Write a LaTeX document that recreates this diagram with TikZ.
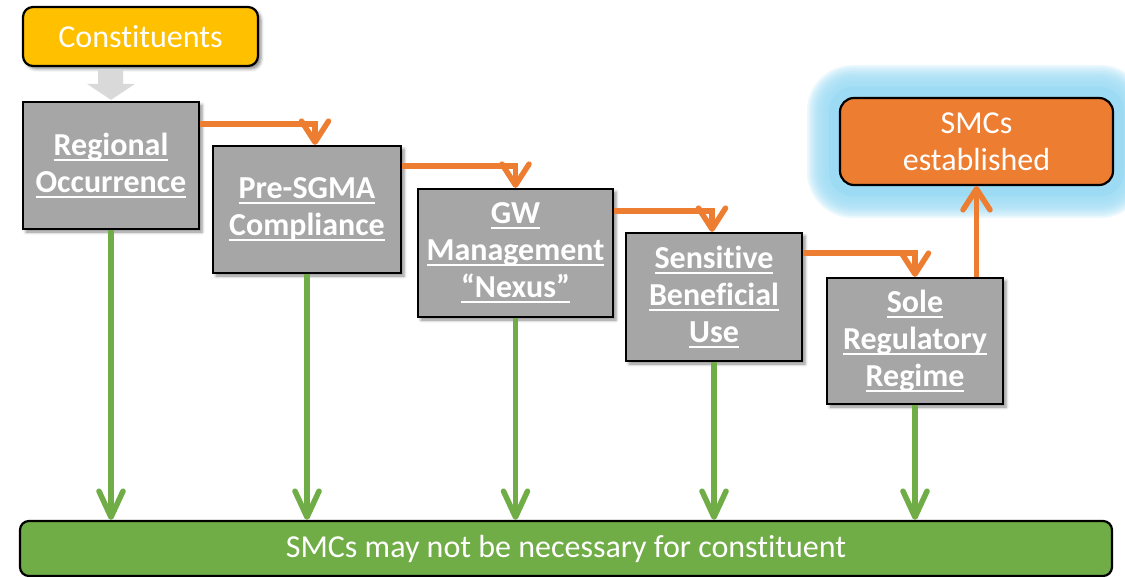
\documentclass[tikz,border=0pt]{standalone}
\usepackage{fontspec}
\setmainfont{Carlito}[Ligatures={NoCommon,NoRare},Contextuals=NoAlternate]
\usetikzlibrary{arrows.meta,shadows.blur,backgrounds,calc}

\definecolor{stagegray}{RGB}{166,166,166}
\definecolor{startyellow}{RGB}{255,192,0}
\definecolor{endorange}{RGB}{237,125,49}
\definecolor{skipgreen}{RGB}{112,173,71}
\definecolor{feedgray}{RGB}{217,217,217}
\definecolor{glowblue}{RGB}{157,219,244}

% white underline sitting at a fixed depth below the baseline
\newcommand\ulw[1]{\setbox0\hbox{#1}\rlap{\rule[-6pt]{\wd0}{2.2pt}}\box0}

\begin{document}
\begin{tikzpicture}[x=1pt,y=-1pt,
  softshadow/.style={blur shadow={shadow xshift=3pt,shadow yshift=-3pt,
      shadow blur radius=3pt,shadow opacity=45}},
  stagebox/.style={draw=black,line width=2.2pt,fill=stagegray,text=white,
      font=\fontsize{32}{37}\selectfont\bfseries,align=center,inner sep=0pt,
      softshadow},
  roundbox/.style={draw=black,line width=2.2pt,text=white,
      font=\fontsize{32}{37}\selectfont,align=center,inner sep=0pt},
  oarrow/.style={draw=endorange,line width=5.5pt,
      -{Straight Barb[length=21pt,width=27pt,round]}},
  garrow/.style={draw=skipgreen,line width=5.5pt,
      -{Straight Barb[length=26pt,width=24pt,round]}},
]
\useasboundingbox (0,0) rectangle (1125,577);

% stage boxes
\node[stagebox,minimum width=176pt,minimum height=127pt] (reg) at (111,165.5)
  {\ulw{Regional}\\\ulw{Occurrence}};
\node[stagebox,minimum width=188pt,minimum height=127pt] (pre) at (307,209.5)
  {\ulw{Pre-SGMA}\\\ulw{Compliance}};
\node[stagebox,minimum width=195pt,minimum height=128pt] (gw) at (515.5,253)
  {\ulw{GW}\\\ulw{Management}\\\ulw{“Nexus”}};
\node[stagebox,minimum width=176pt,minimum height=128pt] (sens) at (714,297)
  {\ulw{Sensitive}\\\ulw{Beneficial}\\\ulw{Use}};
\node[stagebox,minimum width=176pt,minimum height=126pt] (sole) at (915,341)
  {\ulw{Sole}\\\ulw{Regulatory}\\\ulw{Regime}};

% start, outcome and bypass boxes
\node[roundbox,fill=startyellow,rounded corners=10pt,softshadow,
  minimum width=235pt,minimum height=59pt] (cons) at (140.5,36.5) {Constituents};
\node[roundbox,fill=endorange,rounded corners=14pt,
  minimum width=273pt,minimum height=87pt] (smc) at (976.5,141.5)
  {SMCs\\established};
\node[roundbox,fill=skipgreen,rounded corners=9pt,
  minimum width=1092pt,minimum height=55pt] (bot) at (566,548.5)
  {\raisebox{-2pt}{SMCs may not be necessary for constituent}};

% glow around the outcome box
\begin{scope}[on background layer]
  \foreach \d in {32,30,...,12}{
    \pgfmathsetmacro\rr{14+\d}
    \fill[glowblue,fill opacity=0.2,rounded corners=\rr pt]
      ($(smc.south west)+(-\d,\d)$) rectangle ($(smc.north east)+(\d,-\d)$);
  }
  \fill[glowblue,rounded corners=24pt]
    ($(smc.south west)+(-10,10)$) rectangle ($(smc.north east)+(10,-10)$);
\end{scope}

% block arrow from constituents into the first stage
\fill[feedgray]
  ($(reg.north |- cons.south)+(-13,2)$) -- ($(reg.north |- cons.south)+(12,2)$)
  -- ($(reg.north)+(12,-17)$) -- ($(reg.north)+(24,-17)$)
  -- ($(reg.north)+(0,-1)$) -- ($(reg.north)+(-24,-17)$)
  -- ($(reg.north)+(-13,-17)$) -- cycle;

% stage-to-stage connectors
\draw[oarrow] ($(reg.north east)+(0,23)$) -| ($(pre.north)+(8,0)$);
\draw[oarrow] ($(pre.north east)+(0,21)$) -| (gw.north);
\draw[oarrow] ($(gw.north east)+(0,23)$) -| ($(sens.north)+(-2,0)$);
\draw[oarrow] ($(sens.north east)+(0,21)$) -| (sole.north);
\draw[oarrow] (smc.south |- sole.north) -- (smc.south);

% bypass connectors
\foreach \n in {reg,pre,gw,sens,sole}
  \draw[garrow] (\n.south) -- (\n.south |- bot.north);
\end{tikzpicture}
\end{document}
